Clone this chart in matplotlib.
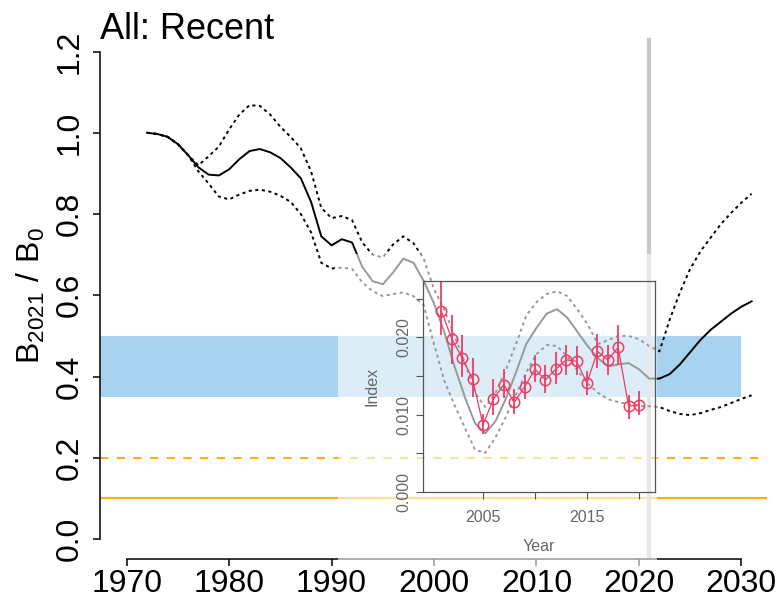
import numpy as np
import matplotlib.pyplot as plt
from matplotlib import font_manager
from matplotlib.patches import Rectangle

# B/B0 trajectory, 1972-2031 (median and dotted interval)
years = np.arange(1972, 2032)
median = [1.0, 0.997, 0.99, 0.972, 0.945, 0.915, 0.897, 0.895, 0.91, 0.935,
          0.955, 0.96, 0.952, 0.938, 0.915, 0.888, 0.83, 0.745, 0.723, 0.738,
          0.73, 0.67, 0.635, 0.627, 0.656, 0.69, 0.68, 0.635, 0.58, 0.51,
          0.425, 0.35, 0.285, 0.26, 0.29, 0.345, 0.41, 0.48, 0.52, 0.555,
          0.566, 0.545, 0.51, 0.475, 0.445, 0.425, 0.43, 0.433, 0.418, 0.395,
          0.395, 0.406, 0.43, 0.46, 0.49, 0.515, 0.535, 0.555, 0.572, 0.585]
upper = [1.0, 0.997, 0.99, 0.972, 0.945, 0.92, 0.942, 0.966, 1.008, 1.045,
         1.068, 1.066, 1.045, 1.015, 0.99, 0.962, 0.905, 0.815, 0.79, 0.795,
         0.785, 0.73, 0.70, 0.693, 0.725, 0.745, 0.728, 0.69, 0.615, 0.565,
         0.5, 0.435, 0.36, 0.325, 0.36, 0.415, 0.48, 0.55, 0.583, 0.603,
         0.61, 0.598, 0.565, 0.528, 0.48, 0.49, 0.5, 0.5, 0.492, 0.475,
         0.462, 0.54, 0.607, 0.665, 0.708, 0.742, 0.775, 0.803, 0.828, 0.85]
lower = [1.0, 0.997, 0.99, 0.972, 0.945, 0.905, 0.875, 0.843, 0.836, 0.848,
         0.857, 0.86, 0.855, 0.845, 0.83, 0.8, 0.755, 0.68, 0.666, 0.668,
         0.665, 0.632, 0.61, 0.598, 0.603, 0.607, 0.598, 0.575, 0.48, 0.39,
         0.33, 0.275, 0.22, 0.212, 0.25, 0.3, 0.355, 0.41, 0.455, 0.478,
         0.475, 0.45, 0.415, 0.383, 0.36, 0.344, 0.337, 0.332, 0.327, 0.327,
         0.325, 0.315, 0.308, 0.305, 0.31, 0.318, 0.325, 0.335, 0.345, 0.354]

band_years = [1967.4, 2030]
band_lo, band_hi = 0.35, 0.5
ref_dashed, ref_solid = 0.2, 0.1
current_year = 2021

# survey index in the inset
idx_years = np.arange(2001, 2021)
idx = [0.0234, 0.0198, 0.0173, 0.0146, 0.0087, 0.0120, 0.0139, 0.0116, 0.0136, 0.0159,
       0.0145, 0.0159, 0.0171, 0.0169, 0.0141, 0.0182, 0.0171, 0.0187, 0.0111, 0.0113]
idx_hi = [0.0285, 0.0229, 0.0203, 0.0173, 0.0101, 0.0146, 0.0159, 0.0133, 0.0152, 0.0177,
          0.0164, 0.0181, 0.0190, 0.0189, 0.0157, 0.0205, 0.0190, 0.0216, 0.0125, 0.0131]
idx_lo = [0.0203, 0.0166, 0.0149, 0.0123, 0.0075, 0.0099, 0.0122, 0.0101, 0.0120, 0.0142,
          0.0128, 0.0140, 0.0152, 0.0152, 0.0125, 0.0160, 0.0152, 0.0164, 0.0094, 0.0099]

names = {f.name for f in font_manager.fontManager.ttflist}
narrow = 'Liberation Sans Narrow' if 'Liberation Sans Narrow' in names else 'Liberation Sans'
plt.rcParams['font.family'] = [narrow, 'DejaVu Sans']
plt.rcParams['mathtext.fontset'] = 'custom'
plt.rcParams['mathtext.rm'] = narrow

orange = '#FFB300'
red = '#EE3D63'
grey = '#666666'

fig = plt.figure(figsize=(7.77, 5.98), dpi=100)
ax = fig.add_axes([100 / 777, 39 / 598, 667 / 777, 527 / 598])
ax.set_xlim(1967.4, 2032.5)
ax.set_ylim(-0.049, 1.248)

ax.fill_between(band_years, band_lo, band_hi, color='#A8D3EE', lw=0)
ax.axhline(ref_dashed, color=orange, lw=1.5, ls=(0, (4, 4)))
ax.axhline(ref_solid, color=orange, lw=1.5)
ax.axvline(current_year, ymax=0.985, color='#c8c8c8', lw=3)
ax.plot(years, median, color='black', lw=1.4)
ax.plot(years, upper, color='black', lw=1.4, ls=(0, (1.6, 1.8)))
ax.plot(years, lower, color='black', lw=1.4, ls=(0, (1.6, 1.8)))

for side in ['top', 'right']:
    ax.spines[side].set_visible(False)
ax.spines['left'].set_bounds(0, 1.2)
ax.spines['bottom'].set_bounds(1970, 2030)
ax.spines['left'].set_linewidth(1.1)
ax.spines['bottom'].set_linewidth(1.1)
ax.set_xticks(np.arange(1970, 2031, 10))
ax.set_yticks(np.arange(0, 1.21, 0.2))
ax.set_yticklabels([f'{v:.1f}' for v in np.arange(0, 1.21, 0.2)])
ax.tick_params(length=5, width=1.1, labelsize=23)
ax.tick_params(axis='y', pad=6)
ax.tick_params(axis='x', pad=2)
for t in ax.get_yticklabels():
    t.set_rotation(90)
    t.set_va('center')

fig.text(31 / 777, 1 - 295 / 598, r'$\mathregular{B_{2021}\ /\ B_0}$',
         rotation=90, fontsize=23, ha='center', va='center')
fig.text(100 / 777, 1 - 39 / 598, 'All: Recent', fontsize=26,
         family='Liberation Sans', ha='left', va='baseline')

# whitened backdrop for the inset
fig.add_artist(Rectangle((338 / 777, 30 / 598), 319 / 777, 314 / 598,
                         transform=fig.transFigure, facecolor='white',
                         edgecolor='none', alpha=0.6, zorder=2))

axin = fig.add_axes([423 / 777, 106 / 598, 232 / 777, 211 / 598])
axin.set_zorder(3)
axin.set_facecolor('none')
axin.set_xlim(1999.23, 2021.54)
axin.set_ylim(0, 0.0273)
axin.vlines(idx_years, idx_lo, idx_hi, color=red, lw=1.3)
axin.plot(idx_years, idx, color=red, lw=0.9)
axin.plot(idx_years, idx, 'o', mfc='none', mec=red, ms=7.5, mew=1.1)

for s in axin.spines.values():
    s.set_color('#555555')
    s.set_linewidth(0.9)
axin.set_xticks([2005, 2010, 2015, 2020])
axin.set_xticklabels(['2005', '', '2015', ''])
axin.set_yticks(np.arange(0, 0.0251, 0.005))
axin.set_yticklabels(['0.000', '', '0.010', '', '0.020', ''])
axin.tick_params(colors='#555555', labelcolor=grey, labelsize=11.5, length=5, width=0.8)
axin.tick_params(axis='x', pad=8)
for t in axin.get_xticklabels() + axin.get_yticklabels():
    t.set_family('Liberation Sans')
for t in axin.get_yticklabels():
    t.set_rotation(90)
    t.set_va('center')
axin.set_xlabel('Year', fontsize=11.5, color=grey, family='Liberation Sans', labelpad=10)
axin.set_ylabel('Index', fontsize=11.5, color=grey, family='Liberation Sans', labelpad=12)

fig.savefig('out.png', dpi=100)
